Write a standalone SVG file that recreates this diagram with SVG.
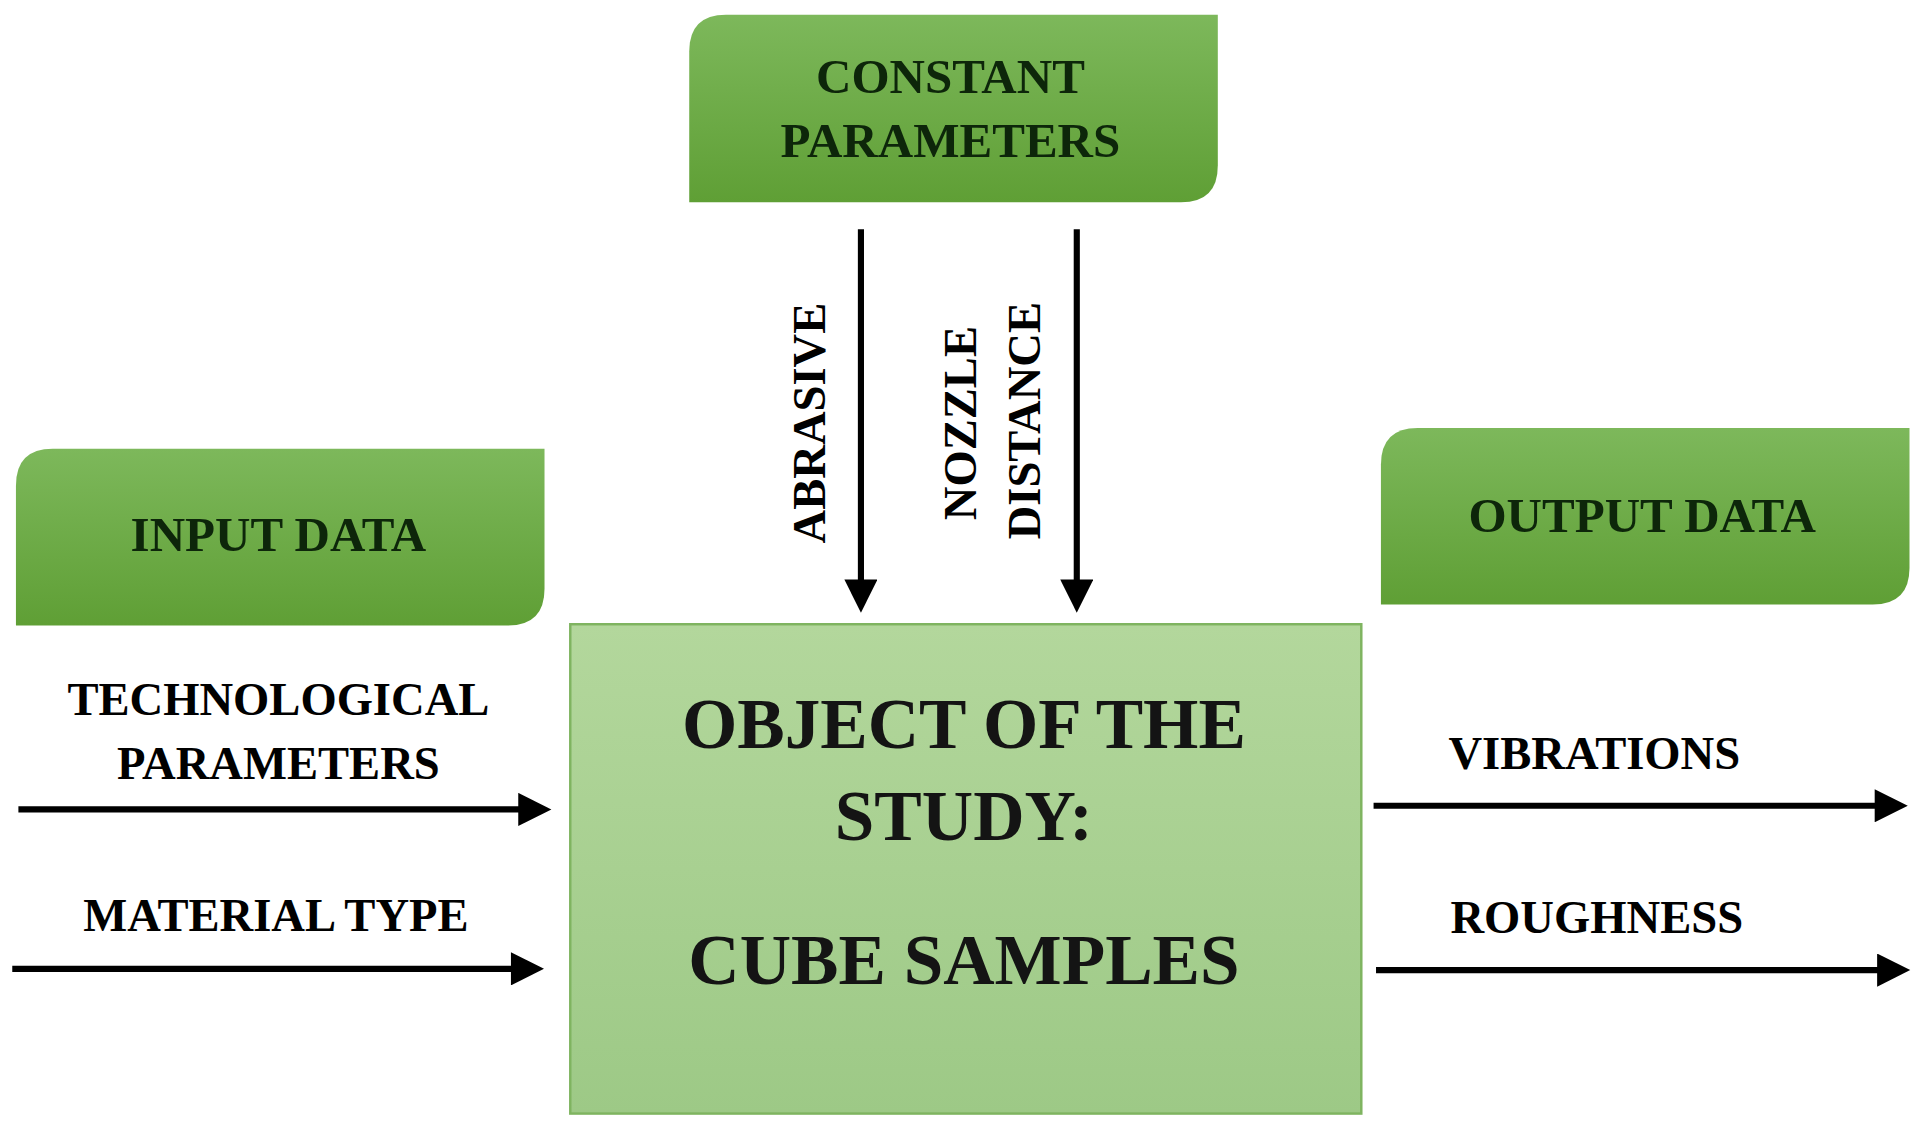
<svg xmlns="http://www.w3.org/2000/svg" width="1923" height="1139" viewBox="0 0 1923 1139">
<defs>
<linearGradient id="g" x1="0" y1="0" x2="0" y2="1"><stop offset="0" stop-color="#7db85b"/><stop offset="1" stop-color="#5f9f35"/></linearGradient>
<linearGradient id="m" x1="0" y1="0" x2="0" y2="1"><stop offset="0" stop-color="#b3d79c"/><stop offset="1" stop-color="#9dc986"/></linearGradient>
<marker id="a" viewBox="0 0 10 10" refX="2" refY="5" markerWidth="6" markerHeight="5.4" orient="auto"><path d="M0,0 L10,5 L0,10 Z" fill="#000"/></marker>
<style>
text{font-family:"Liberation Serif","Times New Roman",serif;font-weight:bold;fill:#000;text-anchor:middle}
.b{font-size:40px;fill:#0d260a}
.l{font-size:38px}
.big{font-size:58px;fill:#141414}
.c{stroke:#000;stroke-width:5;fill:none;marker-end:url(#a)}
</style>
</defs>
<rect width="1923" height="1139" fill="#fff"/>
<g transform="scale(1.2264)">
<g id="constant"><path d="M592,12 H993 V135 Q993,165 963,165 H562 V42 Q562,12 592,12 Z" fill="url(#g)"/><text class="b" x="775" y="76">CONSTANT</text><text class="b" x="775" y="128">PARAMETERS</text></g>
<g id="input"><path d="M43,366 H444 V480 Q444,510 414,510 H13 V396 Q13,366 43,366 Z" fill="url(#g)"/><text class="b" x="227" y="449">INPUT DATA</text></g>
<g id="output"><path d="M1156,349 H1557 V463 Q1557,493 1527,493 H1126 V379 Q1126,349 1156,349 Z" fill="url(#g)"/><text class="b" x="1339" y="434">OUTPUT DATA</text></g>
<g id="object"><rect x="465" y="509" width="645" height="399" fill="url(#m)" stroke="#7fb460" stroke-width="2"/><text class="big" x="786" y="610">OBJECT OF THE</text><text class="big" x="786" y="685">STUDY:</text><text class="big" x="786" y="802">CUBE SAMPLES</text></g>
<g id="connectors">
<line class="c" x1="702" y1="187" x2="702" y2="478"/>
<line class="c" x1="878" y1="187" x2="878" y2="478"/>
<line class="c" x1="15" y1="660" x2="428" y2="660"/>
<line class="c" x1="10" y1="790" x2="422" y2="790"/>
<line class="c" x1="1120" y1="657" x2="1534" y2="657"/>
<line class="c" x1="1122" y1="791" x2="1536" y2="791"/>
<text class="l" transform="translate(673,345) rotate(-90)">ABRASIVE</text>
<text class="l" transform="translate(796,345) rotate(-90)">NOZZLE</text>
<text class="l" transform="translate(848,343) rotate(-90)">DISTANCE</text>
<text class="l" x="227" y="583">TECHNOLOGICAL</text>
<text class="l" x="227" y="635">PARAMETERS</text>
<text class="l" x="225" y="759">MATERIAL TYPE</text>
<text class="l" x="1300" y="627">VIBRATIONS</text>
<text class="l" x="1302" y="761">ROUGHNESS</text>
</g>
</g>
</svg>
